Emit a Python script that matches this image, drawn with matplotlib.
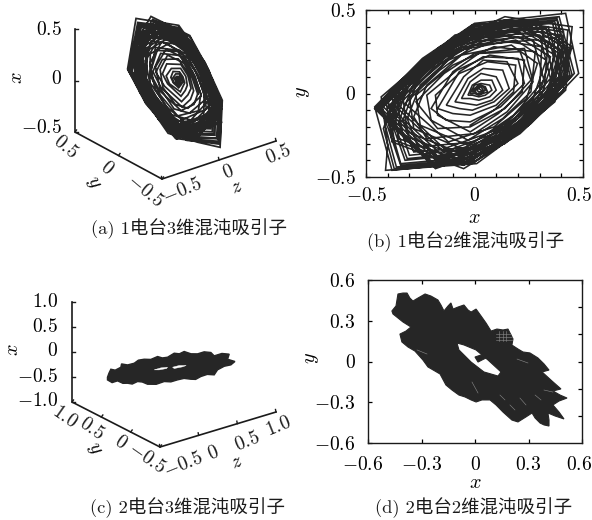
from __future__ import annotations

import matplotlib

matplotlib.use("Agg")
import matplotlib.pyplot as plt
import numpy as np
from matplotlib.path import Path
from matplotlib.patches import PathPatch
from matplotlib.transforms import ScaledTranslation

WIDTH, HEIGHT = 592, 520
INK = "#262626"
TICK_SIZE = 14
LABEL_SIZE = 14.5

plt.rcParams["mathtext.fontset"] = "cm"
plt.rcParams["font.family"] = ["cmr10", "Noto Sans CJK SC", "DejaVu Sans"]
plt.rcParams["axes.unicode_minus"] = False

# one magnet attractor, one turn per row
MAG1_X = [
    .03, .02, .01, .02, .03, .04, .03, .01, 0, .01, .03, .05, .04, .02, 0, -.01,
    0, .01, .03, .05, .06, .04, .02, 0,
    -.02, 0, .03, .07, .08, .05, .02, -.01,
    -.03, -.01, .03, .08, .10, .07, .02, -.02,
    -.06, -.02, .03, .10, .13, .08, .01, -.04,
    -.09, -.03, .04, .13, .16, .09, -.01, -.07,
    -.13, -.05, .04, .15, .20, .10, -.02, -.10,
    -.17, -.07, .04, .20, .23, .12, -.02, -.13,
    -.20, -.10, .02, .21, .26, .14, -.02, -.17,
    -.27, -.14, 0, .23, .27, .15, 0, -.22,
    -.28, -.22, -.06, .17, .29, .24, .09, -.12,
    -.32, -.16, 0, .27, .32, .18, 0, -.26,
    -.31, -.25, -.07, .19, .33, .27, .10, -.14,
    -.35, -.18, .01, .30, .35, .19, .01, -.28,
    -.33, -.27, -.07, .20, .35, .29, .11, -.14,
    -.37, -.19, -.01, .31, .37, .20, .01, -.30,
    -.35, -.28, -.08, .21, .37, .30, .11, -.15,
    -.39, -.20, 0, .33, .39, .21, 0, -.31,
    -.37, -.30, -.08, .22, .39, .32, .12, -.16,
    -.40, -.20, .01, .34, .40, .22, -.01, -.32,
    -.38, -.31, -.08, .23, .40, .33, .12, -.16,
    -.42, -.21, -.01, .36, .42, .23, 0, -.34,
    -.39, -.32, -.08, .23, .41, .34, .13, -.17,
    -.43, -.22, 0, .37, .43, .24, 0, -.34,
    -.40, -.33, -.09, .24, .43, .35, .13, -.18,
    -.44, -.22, 0, .38, .44, .24, .01, -.36,
    -.41, -.34, -.09, .25, .44, .36, .13, -.18,
    -.45, -.23, -.01, .38, .45, .25, 0, -.37,
    -.42, -.34, -.09, .26, .45, .37, .14, -.18,
    -.46, -.23, 0, .39, .46, .25, 0, -.38,
    -.46, -.24, 0, .42, .48, .26, .01, -.41,
    -.40, -.43, -.16, .14, .45, .42, .21, -.05,
    -.38, -.41, -.16, .14, .43, .41, .20, -.05,
    -.37, -.40, -.15, .13, .41, .39, .19, -.04,
    -.35, -.38, -.14, .12, .39, .37, .18, -.04,
    -.33, -.36, -.14, .12, .37, .35, .18, -.04,
    -.31, -.33, -.13, .11, .34, .32, .16, -.04,
    -.28, -.30, -.12, .10, .31, .30, .15, -.03,
    -.25, -.27, -.10, .09, .28, .26, .13, -.03,
    -.20, -.22, -.08, .07, .23, .22, .11, -.02,
    -.17, -.18, -.07, .06, .19, .18, .09, -.02,
]
MAG1_Y = [
    .02, .03, .02, .01, .01, .02, .04, .03, .02, 0, 0, .02, .04, .05, .03, .01,
    .01, .04, .05, .04, .01, 0, -.01, 0,
    0, .05, .06, .05, .02, -.01, -.02, -.01,
    -.01, .05, .08, .08, .02, -.02, -.04, -.03,
    -.03, .07, .12, .10, .02, -.04, -.07, -.06,
    -.05, .09, .15, .14, .03, -.05, -.10, -.09,
    -.07, .10, .20, .19, .06, -.07, -.13, -.12,
    -.09, .13, .22, .21, .06, -.08, -.17, -.16,
    -.09, .13, .24, .25, .08, -.09, -.20, -.21,
    -.05, .12, .24, .27, .07, -.11, -.24, -.27,
    -.14, .05, .23, .29, .18, -.03, -.20, -.29,
    -.06, .14, .29, .32, .08, -.13, -.29, -.32,
    -.15, .05, .26, .32, .20, -.03, -.22, -.33,
    -.07, .16, .31, .35, .09, -.14, -.32, -.35,
    -.16, .05, .27, .34, .22, -.04, -.23, -.35,
    -.07, .17, .33, .37, .09, -.15, -.33, -.37,
    -.17, .06, .29, .36, .23, -.04, -.25, -.37,
    -.08, .18, .35, .39, .10, -.16, -.35, -.39,
    -.18, .06, .30, .38, .24, -.04, -.26, -.39,
    -.08, .18, .36, .40, .10, -.16, -.36, -.40,
    -.18, .06, .31, .39, .25, -.04, -.27, -.40,
    -.08, .19, .38, .42, .11, -.17, -.38, -.42,
    -.19, .06, .32, .40, .25, -.04, -.27, -.41,
    -.09, .19, .39, .43, .11, -.17, -.39, -.43,
    -.20, .07, .33, .42, .26, -.04, -.29, -.43,
    -.09, .20, .40, .44, .11, -.18, -.40, -.44,
    -.20, .07, .34, .43, .27, -.05, -.29, -.44,
    -.09, .20, .41, .45, .11, -.18, -.41, -.45,
    -.21, .07, .35, .44, .28, -.05, -.30, -.45,
    -.09, .21, .41, .46, .12, -.18, -.41, -.46,
    -.08, .21, .42, .48, .12, -.18, -.42, -.46,
    -.31, -.02, .28, .46, .40, .02, -.24, -.45,
    -.29, -.02, .27, .44, .38, .02, -.23, -.43,
    -.28, -.02, .26, .42, .37, .02, -.22, -.41,
    -.27, -.02, .25, .40, .35, .02, -.21, -.39,
    -.25, -.02, .23, .38, .33, .02, -.20, -.37,
    -.23, -.02, .22, .35, .31, .02, -.18, -.34,
    -.21, -.02, .20, .32, .28, .02, -.17, -.31,
    -.19, -.01, .17, .28, .25, .01, -.15, -.28,
    -.16, -.01, .14, .23, .20, .01, -.12, -.23,
    -.13, -.01, .12, .19, .17, .01, -.10, -.19,
]
MAG1_Z = [
    .04, .04, .03, .03, .04, .05, .05, .04, .03, .03, .04, .05, .05, .04, .03, .03,
    .03, .03, .03, .04, .05, .05, .04, .04,
    .03, .02, .02, .04, .05, .05, .05, .04,
    .02, .02, .02, .04, .05, .05, .05, .04,
    .02, 0, .01, .04, .06, .06, .05, .04,
    .01, 0, 0, .03, .07, .07, .06, .04,
    0, -.02, -.02, .03, .07, .07, .06, .04,
    -.01, -.03, -.03, .03, .08, .08, .07, .04,
    -.02, -.04, -.04, .03, .08, .08, .07, .04,
    -.02, -.04, -.04, .03, .09, .09, .07, .04,
    -.03, -.04, -.05, 0, .07, .09, .08, .05,
    -.03, -.06, -.06, .03, .10, .10, .08, .04,
    -.03, -.06, -.06, 0, .08, .10, .08, .05,
    -.04, -.07, -.07, .02, .10, .10, .08, .04,
    -.04, -.06, -.06, 0, .08, .10, .09, .06,
    -.04, -.07, -.07, .02, .10, .10, .08, .04,
    -.04, -.07, -.07, -.01, .08, .11, .09, .06,
    -.05, -.08, -.08, .02, .11, .11, .08, .04,
    -.05, -.07, -.07, -.01, .08, .11, .09, .06,
    -.05, -.08, -.08, .02, .11, .11, .08, .04,
    -.05, -.08, -.08, -.01, .08, .11, .09, .06,
    -.05, -.09, -.09, .02, .11, .11, .09, .04,
    -.05, -.08, -.08, -.01, .09, .11, .09, .06,
    -.05, -.09, -.09, .02, .11, .11, .09, .04,
    -.06, -.08, -.08, -.02, .09, .12, .10, .06,
    -.06, -.09, -.09, .02, .12, .12, .09, .04,
    -.06, -.09, -.09, -.02, .09, .12, .10, .06,
    -.06, -.10, -.10, .02, .12, .12, .09, .04,
    -.06, -.09, -.09, -.02, .09, .12, .10, .06,
    -.06, -.10, -.10, .02, .12, .12, .09, .04,
    -.06, -.10, -.10, .02, .12, .12, .09, .04,
    -.04, -.08, -.10, -.04, .09, .14, .11, .06,
    -.04, -.08, -.10, -.04, .09, .14, .11, .06,
    -.03, -.07, -.09, -.03, .09, .13, .10, .06,
    -.03, -.07, -.08, -.03, .08, .13, .10, .06,
    -.03, -.06, -.08, -.03, .08, .12, .10, .06,
    -.02, -.05, -.07, -.02, .08, .12, .09, .06,
    -.02, -.05, -.06, -.02, .08, .11, .09, .05,
    -.01, -.04, -.05, -.01, .07, .10, .08, .05,
    0, -.02, -.03, 0, .07, .09, .08, .05,
    .01, -.01, -.02, .01, .06, .08, .07, .05,
]

# two magnet attractor seen from above: dark outline, hole, blob inside the hole
MAG2_OUT_X = [
    -.466, -.443, -.432, -.404, -.381, -.365, -.348, -.32, -.28, -.247, -.208, -.191, -.174,
    -.151, -.135, -.123, -.095, -.062, -.039, -.022, .006, .034, .062, .09, .123, .157, .185,
    .202, .213, .207, .241, .269, .308, .353, .387, .415, .376, .432, .482, .437, .477, .516,
    .471, .437, .471, .499, .449, .409, .415, .415, .387, .365, .337, .32, .286, .241, .207,
    .157, .118, .084, .039, .006, -.022, -.056, -.09, -.129, -.163, -.196, -.264, -.292,
    -.337, -.376, -.41, -.421, -.387, -.359, -.404, -.46,
]
MAG2_OUT_Y = [
    .372, .409, .497, .504, .504, .467, .445, .467, .497, .482, .453, .416, .372,
    .409, .431, .386, .401, .416, .379, .364, .386, .335, .283, .224, .239, .232, .239,
    .195, .166, .121, .092, .07, .063, .026, -.018, -.063, -.077, -.144, -.202, -.217, -.247, -.269,
    -.291, -.32, -.372, -.423, -.401, -.379, -.431, -.475, -.467, -.453, -.416, -.379, -.408, -.445, -.431,
    -.372, -.32, -.283, -.283, -.298, -.283, -.261, -.247, -.21, -.173, -.092, -.04, .011,
    .077, .107, .144, .202, .224, .254, .291, .35,
]
MAG2_HOLE_X = [-.101, -.062, .006, .073, .146, .129, .05, -.022, -.09]
MAG2_HOLE_Y = [.136, .122, .085, .011, -.077, -.107, -.077, -.004, .085]
MAG2_BLOB_X = [0, .034, .062, .039, .017]
MAG2_BLOB_Y = [.033, .048, .026, .011, -.004]
# light gaps left between the overlapping turns, as x0, y0, x1, y1
MAG2_GAPS = [
    (.115, .20, .20, .20), (.115, .18, .205, .18), (.115, .158, .205, .158),
    (.135, .15, .135, .225), (.155, .15, .155, .225), (.175, .15, .175, .225),
    (.236, .018, .297, -.011), (.387, -.21, .437, -.225), (-.017, -.151, .017, -.232),
    (-.325, .085, -.269, .055), (.252, -.269, .286, -.32), (.337, -.247, .37, -.283),
    (.196, -.32, .224, -.357), (.14, -.247, .168, -.283),
]

# two magnet attractor seen in 3D: outline and the two thin slits
MAG2_3D_Z = [
    -.80, -.78, -.756, -.70, -.627, -.618, -.54, -.454, -.40, -.325, -.24, -.152, -.09, -.023,
    .063, .13, .192, .28, .365, .45, .537, .58, .68, .774, .753, .848, .796, .71, .623, .58,
    .49, .408, .34, .279, .19, .106, .02, -.066, -.17, -.282, -.35, -.411, -.48, -.54, -.60, -.67,
    -.74, -.80,
]
MAG2_3D_X = [
    .235, .31, .375, .33, .354, .417, .36, .354, .39, .374, .33, .347, .29, .273,
    .313, .27, .287, .20, .159, .16, .106, .019, .02, -.038, -.129, -.219, -.262, -.25, -.281, -.361,
    -.31, -.314, -.34, -.308, -.25, -.24, -.24, -.193, -.20, -.146, -.07, -.032, -.05, -.006, .02, .102,
    .10, .182,
]
SLIT1_X = [.101, .10, .073, .053, .07]
SLIT1_Z = [-.196, -.109, -.023, -.036, -.131]
SLIT2_X = [.043, .037, -.005, -.01, .007]
SLIT2_Z = [.042, .128, .218, .171, .063]
MAG2_3D_Y = 0.0  # spread along y cannot be read off the projection

CAPTIONS = [
    "(a) 1电台3维混沌吸引子",
    "(b) 1电台2维混沌吸引子",
    "(c) 2电台3维混沌吸引子",
    "(d) 2电台2维混沌吸引子",
]
TICKS_A = [-.5, 0, .5]
TICKS_C_X = [-1.0, -.5, 0, .5, 1.0]
TICKS_C_YZ = [-.5, 0, .5, 1.0]
TICKS_D = [-.6, -.3, 0, .3, .6]
TICKS_D_RIGHT = [-.4, -.2, 0, .2, .4]


def tex(value: float, digits: int = 1) -> str:
    if value == 0:
        return "$0$"
    return f"${value:.{digits}f}$"


def add_px_axes(fig, left, top, right, bottom):
    return fig.add_axes(
        [left / WIDTH, 1 - bottom / HEIGHT, (right - left) / WIDTH, (bottom - top) / HEIGHT]
    )


class Box3D:
    """Oblique gnuplot-like projection onto figure pixels."""

    def __init__(self, corner, y_end, z_end, x_height, x_lim, y_lim, z_lim):
        self.corner = np.array(corner, float)
        self.y_vec = np.array(y_end, float) - self.corner
        self.z_vec = np.array(z_end, float) - self.corner
        self.x_height = x_height
        self.x_lim, self.y_lim, self.z_lim = x_lim, y_lim, z_lim

    def project(self, x, y, z):
        x, y, z = np.asarray(x, float), np.asarray(y, float), np.asarray(z, float)
        fx = (x - self.x_lim[0]) / (self.x_lim[1] - self.x_lim[0])
        fy = (y - self.y_lim[0]) / (self.y_lim[1] - self.y_lim[0])
        fz = (z - self.z_lim[0]) / (self.z_lim[1] - self.z_lim[0])
        sx = self.corner[0] + fy * self.y_vec[0] + fz * self.z_vec[0]
        sy = self.corner[1] + fy * self.y_vec[1] + fz * self.z_vec[1] - fx * self.x_height
        return sx, sy

    def draw_frame(self, ax, x_ticks, y_ticks, z_ticks):
        x0, x1 = self.x_lim
        y0, y1 = self.y_lim
        z0, z1 = self.z_lim
        xs, ys = self.project([x1, x0, x0, x0], [y1, y1, y0, y0], [z0, z0, z0, z1])
        ax.plot(xs, ys, color="#1a1a1a", lw=1.2, solid_joinstyle="miter", zorder=3)
        for t in x_ticks:
            sx, sy = self.project(t, y1, z0)
            ax.plot([sx, sx + 3], [sy, sy], color="#1a1a1a", lw=1.0, zorder=3)
        for t in y_ticks:
            sx, sy = self.project(x0, t, z0)
            ax.plot([sx, sx + 1.5], [sy, sy - 2], color="#1a1a1a", lw=1.0, zorder=3)
        for t in z_ticks:
            sx, sy = self.project(x0, y0, t)
            ax.plot([sx, sx - 0.5], [sy, sy - 2.5], color="#1a1a1a", lw=1.0, zorder=3)


def label_3d(ax, labels, positions, rotation):
    for text, (px, py) in zip(labels, positions):
        ax.text(px, py, text, fontsize=TICK_SIZE, rotation=rotation, ha="center", va="center",
                rotation_mode="anchor", color="#1a1a1a")


def axis_letter(ax, px, py, letter, rotation):
    ax.text(px, py, letter, fontsize=LABEL_SIZE, rotation=rotation, ha="center", va="center")


def draw_panel_a(canvas) -> None:
    box = Box3D((162, 179), (75, 132), (276, 141), 103, (-.5, .5), (-.5, .5), (-.5, .5))
    sx, sy = box.project(MAG1_X, MAG1_Y, MAG1_Z)
    canvas.plot(sx, sy, color=INK, lw=1.25, solid_joinstyle="miter")
    box.draw_frame(canvas, TICKS_A, TICKS_A, TICKS_A)
    for value, py in zip(TICKS_A, [128, 79, 30]):
        canvas.text(62, py, tex(value), fontsize=TICK_SIZE, ha="right", va="center")
    label_3d(canvas, [tex(v) for v in TICKS_A], [(145, 191), (107, 168), (65, 147)], -40)
    label_3d(canvas, [tex(v) for v in TICKS_A], [(182, 191), (228, 172), (278, 155)], 22)
    axis_letter(canvas, 17, 78, "$x$", 90)
    axis_letter(canvas, 93, 183, "$y$", -60)
    axis_letter(canvas, 237, 187, "$z$", 22)


def draw_panel_b(fig) -> None:
    ax = add_px_axes(fig, 366, 10, 583, 177)
    ax.plot(MAG1_X, MAG1_Y, color=INK, lw=1.15, solid_joinstyle="miter")
    ax.set_xlim(-.5, .5)
    ax.set_ylim(-.5, .5)
    steps = np.round(np.arange(-.5, .51, .1), 1)
    for axis in (ax.xaxis, ax.yaxis):
        axis.set_ticks(steps)
        axis.set_ticklabels([tex(v) if v in (-.5, 0, .5) else "" for v in steps])
    finish_axes(ax, 218, 303, 92, pad=7)
    nudge_label(fig, ax.get_xticklabels()[-1], -4)


def draw_panel_c(canvas) -> None:
    box = Box3D((160, 447), (72, 402), (276, 412), 100, (-1, 1), (-.5, 1), (-.5, 1))
    sx, sy = box.project(MAG2_3D_X, MAG2_3D_Y, MAG2_3D_Z)
    canvas.fill(sx, sy, color=INK, lw=1.0)
    for xs, zs in ((SLIT1_X, SLIT1_Z), (SLIT2_X, SLIT2_Z)):
        px, py = box.project(xs, MAG2_3D_Y, zs)
        canvas.fill(px, py, color="white", lw=0.3)
    box.draw_frame(canvas, TICKS_C_X, TICKS_C_YZ, TICKS_C_YZ)
    for value, py in zip(TICKS_C_X, [401, 377, 351, 327, 302]):
        canvas.text(58, py, tex(value), fontsize=TICK_SIZE, ha="right", va="center")
    label_3d(canvas, [tex(v) for v in TICKS_C_YZ], [(147, 458), (121, 442), (92, 429), (65, 417)], -35)
    label_3d(canvas, [tex(v) for v in TICKS_C_YZ], [(183, 465), (213, 453), (247, 442), (278, 427)], 22)
    axis_letter(canvas, 13, 350, "$x$", 90)
    axis_letter(canvas, 94, 449, "$y$", -60)
    axis_letter(canvas, 237, 462, "$z$", 22)


def draw_panel_d(fig) -> None:
    ax = add_px_axes(fig, 368, 280, 582, 443)
    ring = list(zip(MAG2_OUT_X, MAG2_OUT_Y))
    hole = list(zip(MAG2_HOLE_X, MAG2_HOLE_Y))
    verts = ring + ring[:1] + hole[::-1] + hole[-1:]
    codes = (
        [Path.MOVETO] + [Path.LINETO] * (len(ring) - 1) + [Path.CLOSEPOLY]
        + [Path.MOVETO] + [Path.LINETO] * (len(hole) - 1) + [Path.CLOSEPOLY]
    )
    ax.add_patch(PathPatch(Path(verts, codes), facecolor=INK, edgecolor=INK, lw=0.8))
    ax.fill(MAG2_BLOB_X, MAG2_BLOB_Y, color=INK, lw=0.8)
    for x0, y0, x1, y1 in MAG2_GAPS:
        ax.plot([x0, x1], [y0, y1], color="#8c8c8c", lw=0.4)
    ax.set_xlim(-.6, .6)
    ax.set_ylim(-.6, .6)
    ax.set_xticks(TICKS_D, [tex(v) for v in TICKS_D])
    ax.set_yticks(TICKS_D, [tex(v) for v in TICKS_D])
    finish_axes(ax, 483, 312, 358, pad=9, right=False)
    nudge_label(fig, ax.get_xticklabels()[0], -5)
    nudge_label(fig, ax.get_xticklabels()[-1], -3)
    right = ax.secondary_yaxis("right")
    right.set_yticks(TICKS_D_RIGHT, [""] * len(TICKS_D_RIGHT))
    right.tick_params(direction="in", length=3, width=0.9)
    right.spines["right"].set_visible(False)


def nudge_label(fig, label, px) -> None:
    label.set_transform(label.get_transform() + ScaledTranslation(px / 100, 0, fig.dpi_scale_trans))


def finish_axes(ax, xlabel_y, ylabel_x, ylabel_y, pad, right=True) -> None:
    ax.tick_params(direction="in", length=3, width=0.9, top=True, right=right,
                   labelsize=TICK_SIZE, pad=pad)
    for spine in ax.spines.values():
        spine.set_linewidth(1.0)
        spine.set_color("#1a1a1a")
    fig = ax.figure
    box = ax.get_position()
    fig.text((box.x0 + box.x1) / 2, 1 - xlabel_y / HEIGHT, "$x$",
             fontsize=LABEL_SIZE, ha="center", va="center")
    fig.text(ylabel_x / WIDTH, 1 - ylabel_y / HEIGHT, "$y$", fontsize=LABEL_SIZE, rotation=90,
             ha="center", va="center")


def main() -> None:
    fig = plt.figure(figsize=(WIDTH / 100, HEIGHT / 100), dpi=100)
    canvas = fig.add_axes([0, 0, 1, 1])
    canvas.set_xlim(0, WIDTH)
    canvas.set_ylim(HEIGHT, 0)
    canvas.axis("off")
    draw_panel_a(canvas)
    draw_panel_b(fig)
    draw_panel_c(canvas)
    draw_panel_d(fig)
    for text, (px, py) in zip(CAPTIONS, [(189, 229), (466, 242), (188, 508), (474, 508)]):
        canvas.text(px, py, text, fontsize=13.3, ha="center", va="center", color="#1a1a1a")
    fig.savefig("out.png", dpi=100)


if __name__ == "__main__":
    main()
